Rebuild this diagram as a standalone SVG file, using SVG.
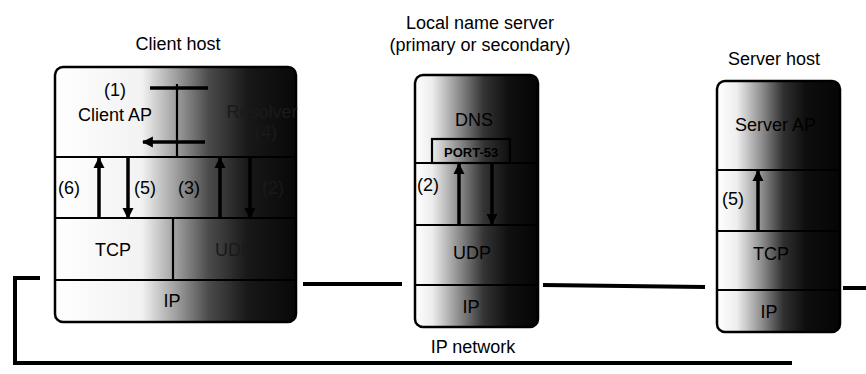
<svg xmlns="http://www.w3.org/2000/svg" width="866" height="374" viewBox="0 0 866 374">
  <style>
    .box { stroke: #000; stroke-width: 2.5; }
    .div { stroke: #000; stroke-width: 2.2; fill: none; }
    .flow { stroke: #000; stroke-width: 3.5; fill: none; }
    .net { stroke: #000; stroke-width: 4; fill: none; stroke-linecap: butt; }
    .title { font-family: "Liberation Sans", Arial, sans-serif; font-size: 18px; fill: #000; text-anchor: middle; }
    .lbl { font-family: "Liberation Sans", Arial, sans-serif; font-size: 18px; fill: #000; text-anchor: middle; }
    .dim { fill: #1a1a1a; }
    .port { font-family: "Liberation Sans", Arial, sans-serif; font-size: 13px; font-weight: bold; fill: #000; }
  </style>
  <defs>
    <!-- each host box fades from white on the left to near black on the right -->
    <linearGradient id="shadeClient" x1="0" y1="0" x2="1" y2="0">
      <stop offset="0" stop-color="#ffffff"/>
      <stop offset="0.36" stop-color="#f2f2f2"/>
      <stop offset="0.5" stop-color="#a0a0a0"/>
      <stop offset="0.64" stop-color="#4a4a4a"/>
      <stop offset="0.8" stop-color="#181818"/>
      <stop offset="1" stop-color="#080808"/>
    </linearGradient>
    <linearGradient id="shadeNs" x1="0" y1="0" x2="1" y2="0">
      <stop offset="0" stop-color="#ffffff"/>
      <stop offset="0.14" stop-color="#ededed"/>
      <stop offset="0.36" stop-color="#8c8c8c"/>
      <stop offset="0.56" stop-color="#333"/>
      <stop offset="0.76" stop-color="#101010"/>
      <stop offset="1" stop-color="#050505"/>
    </linearGradient>
    <linearGradient id="shadeSrv" x1="0" y1="0" x2="1" y2="0">
      <stop offset="0" stop-color="#ffffff"/>
      <stop offset="0.16" stop-color="#eeeeee"/>
      <stop offset="0.36" stop-color="#909090"/>
      <stop offset="0.54" stop-color="#303030"/>
      <stop offset="0.72" stop-color="#0e0e0e"/>
      <stop offset="1" stop-color="#050505"/>
    </linearGradient>
    <marker id="head" viewBox="0 0 10 10" refX="9" refY="5" markerWidth="11" markerHeight="14" markerUnits="userSpaceOnUse" orient="auto">
      <path d="M0,0 L10,5 L0,10 z" fill="#000"/>
    </marker>
  </defs>

  <!-- Client host -->
  <g id="client-host">
    <text class="title" x="178" y="50">Client host</text>
    <rect class="box" x="55" y="67" width="241" height="255" rx="8" fill="url(#shadeClient)"/>
    <line class="div" x1="55" y1="157" x2="296" y2="157"/>
    <line class="div" x1="55" y1="218" x2="296" y2="218"/>
    <line class="div" x1="55" y1="280" x2="296" y2="280"/>
    <line class="div" x1="173" y1="218" x2="173" y2="280"/>
    <line class="div" x1="177" y1="84" x2="177" y2="157"/>
    <text class="lbl" x="115" y="96">(1)</text>
    <text class="lbl" x="115" y="121">Client AP</text>
    <text class="lbl dim" x="262" y="118">Resolver</text>
    <text class="lbl dim" x="266" y="138">(4)</text>
    <text class="lbl" x="69" y="194">(6)</text>
    <text class="lbl" x="145" y="194">(5)</text>
    <text class="lbl" x="189" y="194">(3)</text>
    <text class="lbl dim" x="273" y="194">(2)</text>
    <text class="lbl" x="113" y="256">TCP</text>
    <text class="lbl dim" x="234" y="256">UDP</text>
    <text class="lbl" x="172" y="307">IP</text>
  </g>

  <!-- Local name server -->
  <g id="name-server">
    <text class="title" x="480" y="29">Local name server</text>
    <text class="title" x="480" y="51">(primary or secondary)</text>
    <rect class="box" x="415" y="75" width="123" height="252" rx="8" fill="url(#shadeNs)"/>
    <rect class="div" x="432" y="139" width="78" height="24"/>
    <line class="div" x1="415" y1="163" x2="538" y2="163"/>
    <line class="div" x1="415" y1="225" x2="538" y2="225"/>
    <line class="div" x1="415" y1="285" x2="538" y2="285"/>
    <text class="lbl" x="474" y="126">DNS</text>
    <text class="port" x="444" y="157">PORT-53</text>
    <text class="lbl" x="428" y="191">(2)</text>
    <text class="lbl" x="472" y="259">UDP</text>
    <text class="lbl" x="471" y="313">IP</text>
  </g>

  <!-- Server host -->
  <g id="server-host">
    <text class="title" x="774" y="65">Server host</text>
    <rect class="box" x="717" y="81" width="123" height="251" rx="8" fill="url(#shadeSrv)"/>
    <line class="div" x1="717" y1="170" x2="840" y2="170"/>
    <line class="div" x1="717" y1="231" x2="840" y2="231"/>
    <line class="div" x1="717" y1="290" x2="840" y2="290"/>
    <text class="lbl" x="735" y="131" style="text-anchor:start">Server AP</text>
    <text class="lbl" x="733" y="205">(5)</text>
    <text class="lbl" x="771" y="260">TCP</text>
    <text class="lbl" x="769" y="318">IP</text>
  </g>

  <!-- Connectors: IP network and message flows -->
  <g id="connectors">
    <path class="net" d="M40,278 H15 V363 H792"/>
    <line class="net" x1="303" y1="284" x2="402" y2="284"/>
    <line class="net" x1="543" y1="285" x2="705" y2="287"/>
    <line class="net" x1="843" y1="288" x2="866" y2="288"/>
    <text class="title" x="473" y="353">IP network</text>

    <!-- client host flows -->
    <line class="flow" x1="150" y1="88" x2="208" y2="88"/>
    <line class="flow" x1="205" y1="142" x2="143" y2="142" marker-end="url(#head)"/>
    <line class="flow" x1="99" y1="218" x2="99" y2="158" marker-end="url(#head)"/>
    <line class="flow" x1="128" y1="157" x2="128" y2="218" marker-end="url(#head)"/>
    <line class="flow" x1="220" y1="218" x2="220" y2="158" marker-end="url(#head)"/>
    <line class="flow" x1="250" y1="157" x2="250" y2="218" marker-end="url(#head)"/>

    <!-- name server flows -->
    <line class="flow" x1="459" y1="225" x2="459" y2="164" marker-end="url(#head)"/>
    <line class="flow" x1="492" y1="163" x2="492" y2="224" marker-end="url(#head)"/>

    <!-- server host flow -->
    <line class="flow" x1="758" y1="231" x2="758" y2="171" marker-end="url(#head)"/>
  </g>
</svg>
